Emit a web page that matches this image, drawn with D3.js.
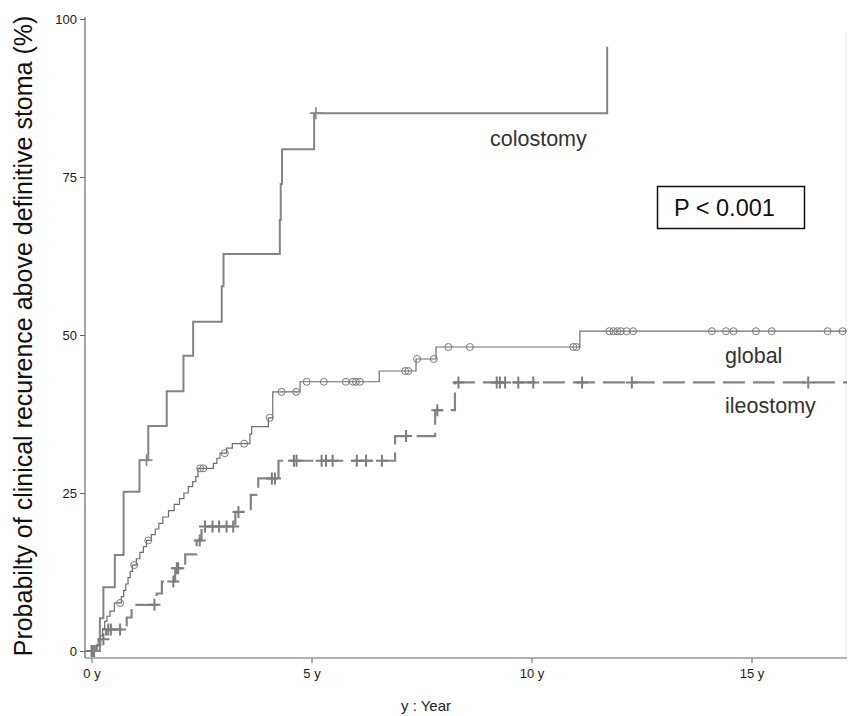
<!DOCTYPE html>
<html>
<head>
<meta charset="utf-8">
<script src="https://cdn.jsdelivr.net/npm/d3@7"></script>
<style>
  html, body { margin: 0; padding: 0; background: #fff; }
  svg { display: block; font-family: "Liberation Sans", Arial, sans-serif; }
</style>
</head>
<body>
<svg id="chart" width="853" height="716"></svg>
<script>
// ---- Data ----
const xTickValues = [0, 5, 10, 15];
const xTickLabels = ["0 y", "5 y", "10 y", "15 y"];
const yTickValues = [0, 25, 50, 75, 100];
const yTickLabels = ["0", "25", "50", "75", "100"];

const colostomyTimes  = [0, 0.19, 0.27, 0.53, 0.73, 1.09, 1.29, 1.71, 2.09, 2.31, 2.96, 3.0, 4.28, 4.30, 4.33, 5.06, 11.72];
const colostomyValues = [0, 5.2, 10.1, 15.2, 25.2, 30.2, 35.6, 41.1, 46.7, 52.1, 57.7, 62.8, 68.2, 73.9, 79.4, 85.1, 95.6];
const colostomyEnd = 11.72;
const colostomyCensor = [1.25, 5.1];

const globalTimes  = [0, 0.1, 0.15, 0.2, 0.25, 0.3, 0.35, 0.42, 0.52, 0.68, 0.73, 0.78, 0.83, 0.88, 0.93, 1.02, 1.1, 1.18, 1.25, 1.36, 1.45, 1.53, 1.62, 1.75, 1.88, 2.0, 2.1, 2.2, 2.3, 2.37, 2.42, 2.77, 2.85, 2.92, 3.07, 3.2, 3.6, 3.64, 4.02, 4.12, 4.74, 6.54, 7.375, 7.83, 11.10];
const globalValues = [0, 0.8, 1.6, 2.4, 3.5, 4.7, 5.5, 6.3, 7.6, 8.6, 9.6, 10.6, 11.6, 12.6, 13.6, 14.6, 15.6, 16.5, 17.5, 18.4, 19.3, 20.2, 21.2, 22.2, 23.2, 24.1, 25.0, 26.0, 26.8, 27.6, 28.9, 29.7, 30.5, 31.3, 32.1, 32.8, 34.3, 35.5, 36.9, 41.0, 42.6, 44.3, 46.2, 48.1, 50.6];
const globalEnd = 17.3;
const globalCensor = [0.65, 0.97, 1.29, 2.47, 2.54, 3.03, 3.47, 4.05, 4.32, 4.65, 4.89, 5.28, 5.78, 5.94, 6.01, 6.10, 7.13, 7.20, 7.40, 7.78, 8.11, 8.60, 10.95, 11.02, 11.77, 11.86, 11.95, 12.03, 12.16, 12.31, 14.10, 14.42, 14.59, 15.10, 15.46, 16.73, 17.07];

const ileostomyTimes  = [0, 0.12, 0.2, 0.33, 0.8, 0.91, 1.48, 1.6, 1.9, 2.13, 2.39, 2.5, 3.27, 3.62, 3.79, 4.25, 6.9, 7.81, 8.26];
const ileostomyValues = [0, 0.9, 1.85, 3.4, 5.3, 7.3, 9.1, 11.0, 13.1, 15.3, 17.5, 19.7, 22.0, 24.7, 27.3, 30.1, 34.0, 38.1, 42.5];
const ileostomyEnd = 17.3;
const ileostomyCensor = [0.0, 0.03, 0.06, 0.27, 0.38, 0.44, 0.65, 1.43, 1.86, 1.94, 1.97, 2.46, 2.58, 2.75, 2.90, 3.07, 3.22, 3.34, 4.10, 4.17, 4.6, 4.66, 5.23, 5.33, 5.48, 6.03, 6.24, 6.6, 7.15, 7.86, 8.34, 9.21, 9.28, 9.40, 9.70, 10.04, 11.15, 12.28, 16.29];

// ---- Layout ----
const svg = d3.select("#chart");
const x = d3.scaleLinear().domain([0, 15]).range([91.5, 751.5]);
const y = d3.scaleLinear().domain([0, 100]).range([651, 19]);
const plotLeft = 85, plotBottom = 658, plotRight = 847, plotTop = 17;

svg.append("defs").append("clipPath").attr("id", "clip")
  .append("rect").attr("x", plotLeft - 10).attr("y", 0).attr("width", plotRight - plotLeft + 10).attr("height", plotBottom + 10);

// faint right border
svg.append("line").attr("x1", 846).attr("x2", 846).attr("y1", 33).attr("y2", plotBottom)
  .attr("stroke", "#ececec").attr("stroke-width", 1);

// axes
const yAxis = d3.axisLeft(y).tickValues(yTickValues).tickFormat((d, i) => yTickLabels[i]).tickSize(5).tickPadding(3);
const gy = svg.append("g").attr("transform", `translate(${plotLeft},0)`).call(yAxis);
gy.select(".domain").attr("d", `M0,${plotTop}V${plotBottom}`);
const xAxis = d3.axisBottom(x).tickValues(xTickValues).tickFormat((d, i) => xTickLabels[i]).tickSize(5).tickPadding(6);
const gx = svg.append("g").attr("transform", `translate(0,${plotBottom})`).call(xAxis);
gx.select(".domain").attr("d", `M${plotLeft},0H${plotRight}`);
[gx, gy].forEach(g => {
  g.select(".domain").attr("stroke", "#666").attr("stroke-width", 1.2);
  g.selectAll(".tick line").attr("stroke", "#666");
  g.selectAll(".tick text").attr("fill", "#1a1a1a").attr("font-size", 13).attr("font-family", "Liberation Sans, Arial, sans-serif");
});

// helpers
function stepSeries(times, values, end) {
  const pts = times.map((t, i) => [t, values[i]]);
  pts.push([end, values[values.length - 1]]);
  return pts;
}
function valueAt(times, values, t) {
  let v = values[0];
  for (let i = 0; i < times.length; i++) if (times[i] <= t) v = values[i];
  return v;
}
const line = d3.line().x(d => x(d[0])).y(d => y(d[1])).curve(d3.curveStepAfter);
const plot = svg.append("g").attr("clip-path", "url(#clip)");

// ileostomy (dashed)
plot.append("path").datum(stepSeries(ileostomyTimes, ileostomyValues, ileostomyEnd))
  .attr("d", line).attr("fill", "none").attr("stroke", "#858585").attr("stroke-width", 2.2)
  .attr("stroke-dasharray", "22,8");
plot.selectAll(".ileoC").data(ileostomyCensor).enter().append("path")
  .attr("d", t => { const cx = x(t), cy = y(valueAt(ileostomyTimes, ileostomyValues, t));
    return `M${cx - 6},${cy}H${cx + 6}M${cx},${cy - 6}V${cy + 6}`; })
  .attr("stroke", "#7d7d7d").attr("stroke-width", 2).attr("fill", "none");

// global
plot.append("path").datum(stepSeries(globalTimes, globalValues, globalEnd))
  .attr("d", line).attr("fill", "none").attr("stroke", "#6e6e6e").attr("stroke-width", 1.2);
plot.selectAll(".globC").data(globalCensor).enter().append("circle")
  .attr("cx", t => x(t)).attr("cy", t => y(valueAt(globalTimes, globalValues, t)))
  .attr("r", 3.5).attr("fill", "none").attr("stroke", "#7a7a7a").attr("stroke-width", 1);

// colostomy
plot.append("path").datum(stepSeries(colostomyTimes, colostomyValues, colostomyEnd))
  .attr("d", line).attr("fill", "none").attr("stroke", "#848484").attr("stroke-width", 2);
plot.selectAll(".coloC").data(colostomyCensor).enter().append("path")
  .attr("d", t => { const cx = x(t), cy = y(valueAt(colostomyTimes, colostomyValues, t));
    return `M${cx - 6},${cy}H${cx + 6}M${cx},${cy - 6}V${cy + 6}`; })
  .attr("stroke", "#888").attr("stroke-width", 1.6).attr("fill", "none");

// curve labels
svg.append("text").attr("x", 490).attr("y", 146).attr("font-size", 21.5).attr("fill", "#333").text("colostomy");
svg.append("text").attr("x", 725).attr("y", 363).attr("font-size", 21.5).attr("fill", "#333").text("global");
svg.append("text").attr("x", 725).attr("y", 413).attr("font-size", 21.5).attr("fill", "#333").text("ileostomy");

// p-value box
svg.append("rect").attr("x", 657.5).attr("y", 186.5).attr("width", 147).attr("height", 42)
  .attr("fill", "#fff").attr("stroke", "#111").attr("stroke-width", 1.5);
svg.append("text").attr("x", 674).attr("y", 216).attr("font-size", 23.5).attr("fill", "#111").text("P < 0.001");

// axis titles
svg.append("text").attr("x", 426).attr("y", 711).attr("text-anchor", "middle").attr("font-size", 15)
  .attr("fill", "#222").text("y : Year");
svg.append("text").attr("transform", "translate(32,336) rotate(-90)").attr("text-anchor", "middle")
  .attr("font-size", 25).attr("fill", "#111")
  .text("Probabilty of clinical recurence above definitive stoma (%)");
</script>
</body>
</html>
